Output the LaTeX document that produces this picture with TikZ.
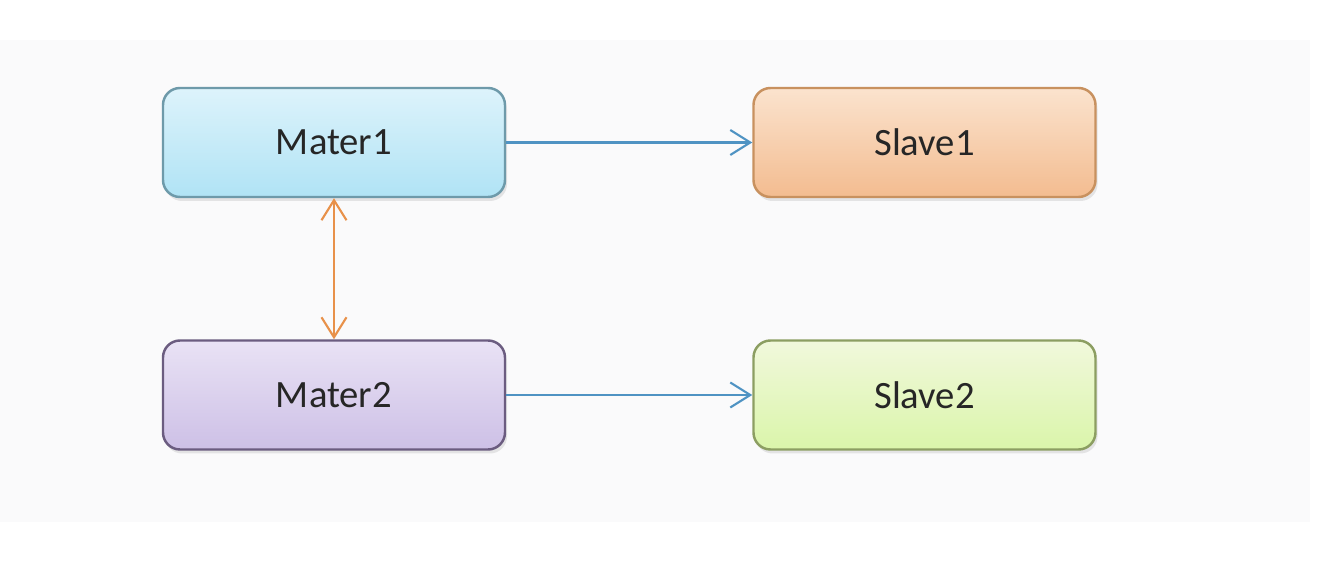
\documentclass[tikz,border=0pt]{standalone}
\usepackage{fontspec}
\setmainfont{Carlito}
\usetikzlibrary{arrows.meta,shadows}
\definecolor{panelgray}{HTML}{FAFAFB}
\definecolor{linkblue}{HTML}{4F93C3}
\definecolor{linkorange}{HTML}{E8914A}
\definecolor{materonetop}{HTML}{DDF3FB}
\definecolor{materonebot}{HTML}{B0E3F5}
\definecolor{materoneline}{HTML}{6E9AAA}
\definecolor{matertwotop}{HTML}{E9E2F5}
\definecolor{matertwobot}{HTML}{CDC0E6}
\definecolor{matertwoline}{HTML}{6B5C80}
\definecolor{slaveonetop}{HTML}{FBE3CE}
\definecolor{slaveonebot}{HTML}{F3BC90}
\definecolor{slaveoneline}{HTML}{C8915F}
\definecolor{slavetwotop}{HTML}{F1F8DC}
\definecolor{slavetwobot}{HTML}{DAF5AA}
\definecolor{slavetwoline}{HTML}{8C9E62}
\begin{document}
\begin{tikzpicture}[
    box/.style={rounded corners=0.17cm, minimum width=3.42cm, minimum height=1.09cm,
      line width=0.7pt, font=\fontsize{11}{13}\selectfont, text=black!85,
      drop shadow={opacity=0.18, shadow xshift=0.02cm, shadow yshift=-0.04cm}},
    link/.style={line width=0.6pt, -{Straight Barb[length=0.2cm, width=0.25cm]}}
  ]
    % Page and light panel behind the diagram
    \useasboundingbox (0,0) rectangle (13.36,5.72);
    \fill[white] (0,0) rectangle (13.36,5.72);
    \fill[panelgray] (0,0.5) rectangle (13.1,5.32);

    % Masters on the left
    \node[box, draw=materoneline, top color=materonetop, bottom color=materonebot]
      (mater1) at (3.34,4.295) {Mater1};
    \node[box, draw=matertwoline, top color=matertwotop, bottom color=matertwobot]
      (mater2) at (3.34,1.77) {Mater2};

    % Slaves on the right
    \node[box, draw=slaveoneline, top color=slaveonetop, bottom color=slaveonebot]
      (slave1) at (9.245,4.295) {Slave1};
    \node[box, draw=slavetwoline, top color=slavetwotop, bottom color=slavetwobot]
      (slave2) at (9.245,1.77) {Slave2};

    % Replication links
    \draw[link, linkblue] (mater1) -- (slave1);
    \draw[link, linkblue] (mater2) -- (slave2);

    % Master to master link
    \draw[link, linkorange, {Straight Barb[length=0.2cm, width=0.25cm]}-{Straight Barb[length=0.2cm, width=0.25cm]}]
      (mater1) -- (mater2);
  \end{tikzpicture}
\end{document}
